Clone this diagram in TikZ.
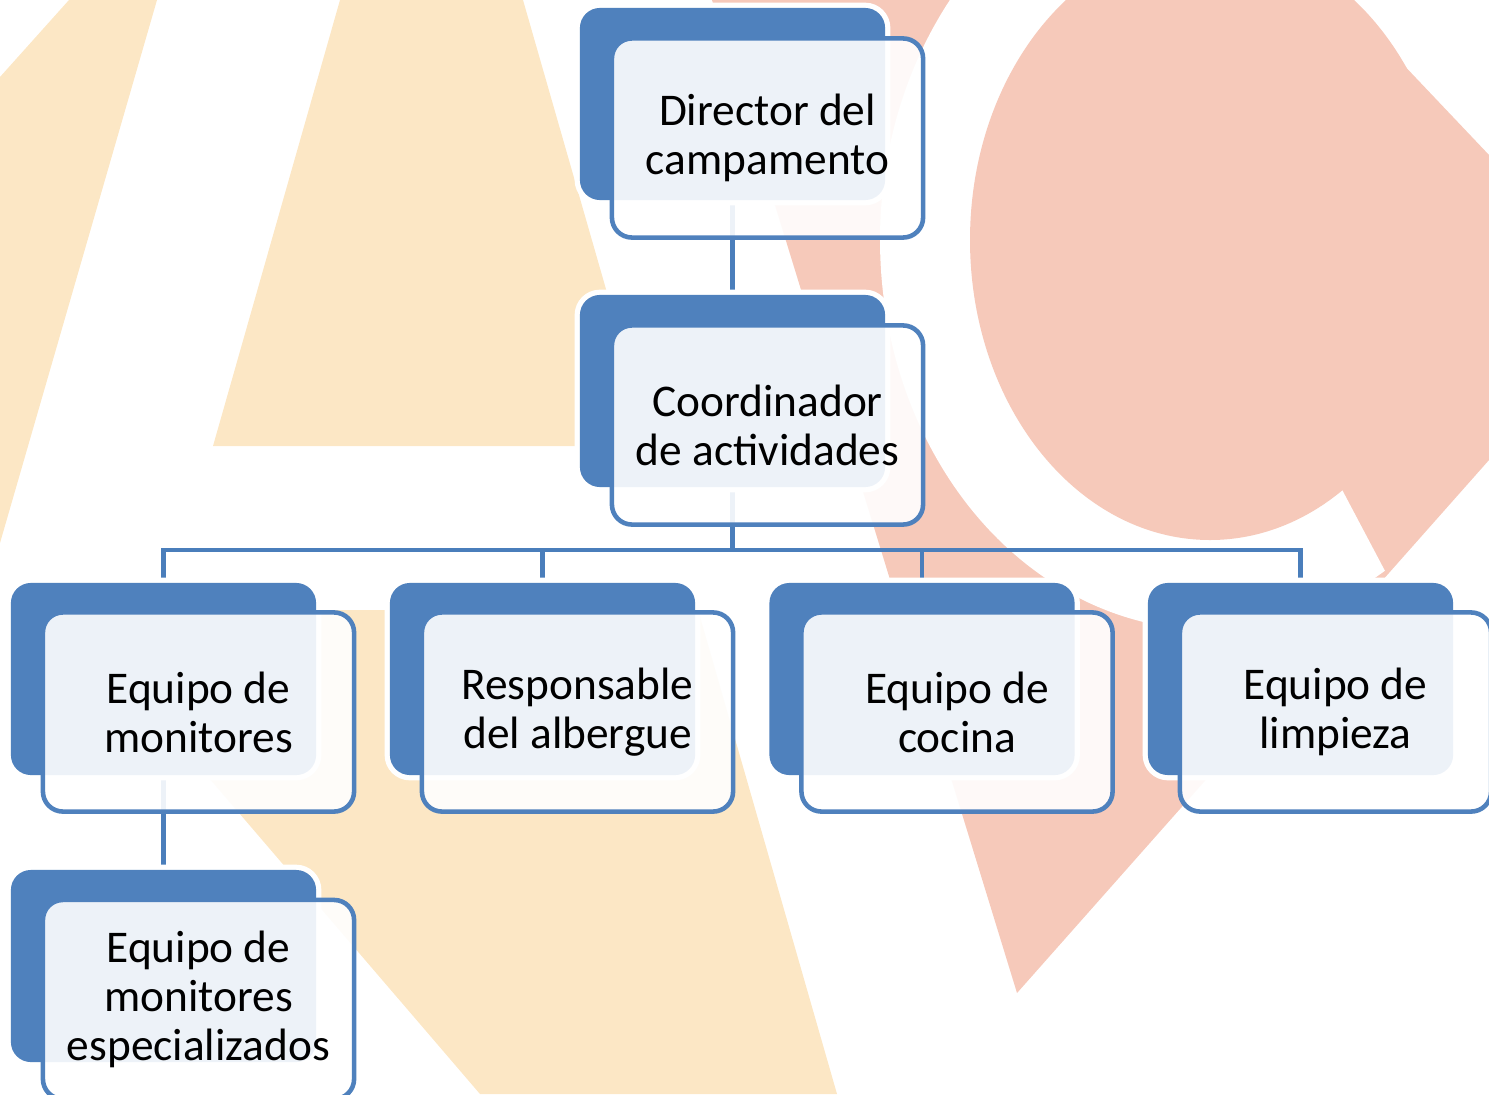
\documentclass[tikz,border=0pt]{standalone}
\usepackage{fontspec}
\setmainfont{Carlito}
\definecolor{boxblue}{HTML}{4F81BD}
\definecolor{linkblue}{HTML}{4A7EBB}
\definecolor{logoorange}{HTML}{FCE7C5}
\definecolor{logosalmon}{HTML}{F6C9BA}
\pgfdeclarelayer{logo}
\pgfdeclarelayer{links}
\pgfsetlayers{logo,links,main}
\newcommand{\orgfont}{\fontsize{12.9}{13.9}\selectfont}
\tikzset{
  backbox/.style={rectangle, rounded corners=0.2cm, minimum width=3.05cm,
    minimum height=1.92cm, inner sep=0pt, outer sep=0pt, fill=boxblue,
    preaction={draw=white, line width=3pt}},
  frontbox/.style={rectangle, rounded corners=0.2cm, minimum width=3.11cm,
    minimum height=1.99cm, inner sep=0pt, outer sep=0pt, draw=boxblue,
    line width=1.3pt, fill=white, fill opacity=0.9, text opacity=1,
    align=center, font=\orgfont},
  link/.style={draw=linkblue, line width=1.3pt}
}
\begin{document}
\begin{tikzpicture}[x=0.01cm, y=-0.01cm]
      \useasboundingbox (0,0) rectangle (1489,1094);
      \begin{pgfonlayer}{logo}
        \clip (0,0) rectangle (1489,1094);
        \fill[logoorange] (0,77) -- (69,0) -- (157,0) -- (0,543) -- cycle;
        \fill[logoorange] (340,0) -- (523,0) -- (651,446) -- (213,446) -- cycle;
        \fill[logoorange] (65,610) -- (698,610) -- (837,1094) -- (480,1094) -- cycle;
        \fill[logosalmon] (712,0) -- (1342,0) -- (1489,155) -- (1489,460)
          -- (1017,993) -- cycle;
        \fill[white] (1210,240) -- +(58:330 and 390)
          arc[start angle=58, end angle=260, x radius=330, y radius=390] -- cycle;
        \fill[logosalmon] (1210,240) ellipse[x radius=240, y radius=300];
      \end{pgfonlayer}
      \node[backbox] (dirback) at (732.5,104) {};
      \node[frontbox] (dir) at (767.5,138) {Director del\\campamento};
      \node[backbox] (coordback) at (732.5,391) {};
      \node[frontbox] (coord) at (767.5,425) {Coordinador\\de actividades};
      \node[backbox] (monback) at (163.5,679) {};
      \node[frontbox] (mon) at (198.5,712) {Equipo de\\monitores};
      \node[backbox] (albback) at (542.5,679) {};
      \node[frontbox] (alb) at (577.5,712) {Responsable\\del albergue};
      \node[backbox] (cocback) at (922,679) {};
      \node[frontbox] (coc) at (957,712) {Equipo de\\cocina};
      \node[backbox] (limback) at (1300.5,679) {};
      \node[frontbox] (lim) at (1335.5,712) {Equipo de\\limpieza};
      \node[backbox] (espback) at (163.5,966) {};
      \node[frontbox] (esp) at (198.5,999.5) {Equipo de\\monitores\\especializados};
      \begin{pgfonlayer}{links}
        \coordinate (bus) at (732.5,550);
        \draw[link] (dirback.south) -- (coordback.north);
        \draw[link] (coordback.south) -- (bus);
        \draw[link] (bus) -| (monback.north);
        \draw[link] (bus) -| (albback.north);
        \draw[link] (bus) -| (cocback.north);
        \draw[link] (bus) -| (limback.north);
        \draw[link] (monback.south) -- (espback.north);
      \end{pgfonlayer}
    \end{tikzpicture}
\end{document}
